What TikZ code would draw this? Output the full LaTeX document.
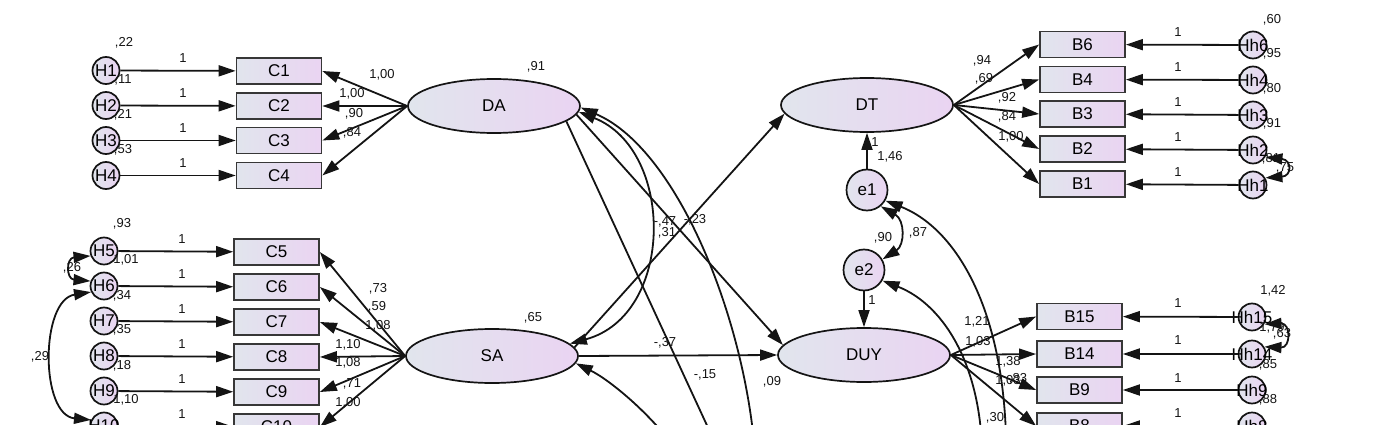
\documentclass[tikz,border=0pt]{standalone}
\usepackage{fontspec}
\setmainfont{Liberation Sans}
\usetikzlibrary{shapes.geometric,arrows.meta}
\definecolor{gL}{RGB}{225,229,237}
\definecolor{gR}{RGB}{234,212,242}
\definecolor{lc}{RGB}{20,20,20}
\newcommand\zw[1]{\makebox[0pt]{#1}}
\begin{document}
\begin{tikzpicture}[x=1pt,y=-1pt,
 lat/.style={ellipse,draw=lc,line width=1.7pt,left color=gL,right color=gR,minimum width=172pt,minimum height=54pt,inner sep=0pt,font=\fontsize{17}{20}\selectfont},
 obs/.style={rectangle,draw=lc!85,line width=1.7pt,left color=gL,right color=gR,minimum width=85pt,minimum height=26pt,inner sep=0pt,font=\fontsize{17}{20}\selectfont},
 err/.style={circle,draw=lc,line width=1.7pt,left color=gL,right color=gR,minimum size=27pt,inner sep=0pt,font=\fontsize{17}{20}\selectfont},
 res/.style={err,minimum size=41pt},
 lbl/.style={inner sep=0pt,font=\fontsize{13}{15}\selectfont,text=lc},
 arr/.style={-{Triangle[length=17pt,width=11pt]},line width=1.8pt,draw=lc},
 cov/.style={{Triangle[length=17pt,width=11pt]}-{Triangle[length=17pt,width=11pt]},line width=1.8pt,draw=lc}]
\useasboundingbox (0,0) rectangle (1400,425);
\clip (0,0) rectangle (1400,425);
% ---------- top-left group
\node[err] (H1) at (106,70.5) {\zw{H1}};
\node[err] (H2) at (106,105.5) {\zw{H2}};
\node[err] (H3) at (106,140.5) {\zw{H3}};
\node[err] (H4) at (106,175.5) {\zw{H4}};
\node[obs] (C1) at (279,71) {C1};
\node[obs] (C2) at (279,106) {C2};
\node[obs] (C3) at (279,140.5) {C3};
\node[obs] (C4) at (279,175.5) {C4};
\node[lat] (DA) at (494,106) {DA};
% ---------- left-middle group
\node[err] (H5) at (104,251) {\zw{H5}};
\node[err] (H6) at (104,286) {\zw{H6}};
\node[err] (H7) at (104,321) {\zw{H7}};
\node[err] (H8) at (104,356) {\zw{H8}};
\node[err] (H9) at (104,391) {\zw{H9}};
\node[err] (H10) at (104,426) {\zw{H10}};
\node[obs] (C5) at (276.5,252) {C5};
\node[obs] (C6) at (276.5,287) {C6};
\node[obs] (C7) at (276.5,322) {C7};
\node[obs] (C8) at (276.5,357) {C8};
\node[obs] (C9) at (276.5,392) {C9};
\node[obs] (C10) at (276.5,427) {C10};
\node[lat] (SA) at (492,356) {SA};
% ---------- middle
\node[lat] (DT) at (867,105) {DT};
\node[lat] (DUY) at (864,355) {DUY};
\node[res] (e1) at (867,190) {\zw{e1}};
\node[res] (e2) at (864,270) {\zw{e2}};
% ---------- right-top group
\node[obs] (B6) at (1082.5,44.5) {B6};
\node[obs] (B4) at (1082.5,79.5) {B4};
\node[obs] (B3) at (1082.5,114) {B3};
\node[obs] (B2) at (1082.5,149) {B2};
\node[obs] (B1) at (1082.5,184) {B1};
\node[err] (Hh6) at (1253,45) {\zw{Hh6}};
\node[err] (Hh4) at (1253,80) {\zw{Hh4}};
\node[err] (Hh3) at (1253,115) {\zw{Hh3}};
\node[err] (Hh2) at (1253,150) {\zw{Hh2}};
\node[err] (Hh1) at (1253,185) {\zw{Hh1}};
% ---------- right-bottom group
\node[obs] (B15) at (1079.5,316.5) {B15};
\node[obs] (B14) at (1079.5,354) {B14};
\node[obs] (B9) at (1079.5,390) {B9};
\node[obs] (B8) at (1079.5,426) {B8};
\node[err] (Hh15) at (1252,317) {\zw{Hh15}};
\node[err] (Hh14) at (1252,354) {\zw{Hh14}};
\node[err] (Hh9) at (1252,390) {\zw{Hh9}};
\node[err] (Hh8) at (1252,426) {\zw{Hh8}};
% ---------- free ends below the frame
\coordinate (o1) at (756,470);
\coordinate (o2) at (723,460);
\coordinate (o3) at (690,470);
\coordinate (o4) at (1006,470);
\coordinate (o5) at (982,470);
% ---------- connectors
\foreach \i in {1,...,10} \draw[arr] (H\i) -- (C\i);
\foreach \i in {1,...,4} \draw[arr] (DA.west) -- (C\i.east);
\foreach \i in {5,...,10} \draw[arr] (SA.west) -- (C\i.east);
\foreach \b in {6,4,3,2,1} {\draw[arr] (DT.east) -- (B\b.west); \draw[arr] (Hh\b) -- (B\b);}
\foreach \b in {15,14,9,8} {\draw[arr] (DUY.east) -- (B\b.west); \draw[arr] (Hh\b) -- (B\b);}
\draw[arr] (e1) -- (DT);
\draw[arr] (e2) -- (DUY);
\draw[arr] (DA.-6) -- (DUY.173);
\draw[arr] (SA.6) -- (DT.186);
\draw[arr] (SA.east) -- (DUY.west);
\draw[cov] (DA.-4) .. controls (675,150) and (675,315) .. (SA.9);
\draw[arr] (o1) .. controls (750,330) and (680,150) .. (DA.-1);
\draw[arr] (DA.-12) -- (o2);
\draw[arr] (o3) .. controls (660,420) and (610,380) .. (SA.-5);
\draw[arr] (o4) .. controls (1010,320) and (960,230) .. (e1.-30);
\draw[arr] (o5) .. controls (985,370) and (945,305) .. (e2.-30);
\draw[cov] (e1.-50) .. controls (905,220) and (905,245) .. (e2.30);
\draw[cov] (H6.205) .. controls (40,300) and (40,415) .. (H10.155);
\draw[cov] (H5.200) .. controls (66,258) and (66,279) .. (H6.160);
\draw[cov] (Hh2.-30) .. controls (1292,160) and (1292,176) .. (Hh1.30);
\draw[cov] (Hh15.-30) .. controls (1291,323) and (1291,348) .. (Hh14.30);
% ---------- labels top-left
\node[lbl] (t1) at (124,43) {,22};
\node[lbl] (t2) at (123,80) {,11};
\node[lbl] (t3) at (123,115) {,21};
\node[lbl] (t4) at (123,150) {,53};
\node[lbl] (t5) at (183,58) {1};
\node[lbl] (t6) at (183,93) {1};
\node[lbl] (t7) at (183,128) {1};
\node[lbl] (t8) at (183,163) {1};
\node[lbl] (t9) at (382,75) {1,00};
\node[lbl] (t10) at (352,94) {1,00};
\node[lbl] (t11) at (354,114) {,90};
\node[lbl] (t12) at (352,133) {,84};
\node[lbl] (t13) at (536,67) {,91};
% ---------- labels left-middle
\node[lbl] (m1) at (122,224) {,93};
\node[lbl] (m2) at (126,260) {1,01};
\node[lbl] (m3) at (122,296) {,34};
\node[lbl] (m4) at (122,330) {,35};
\node[lbl] (m5) at (122,366) {,18};
\node[lbl] (m6) at (126,400) {1,10};
\node[lbl] (m7) at (182,239) {1};
\node[lbl] (m8) at (182,274) {1};
\node[lbl] (m9) at (182,309) {1};
\node[lbl] (m10) at (182,344) {1};
\node[lbl] (m11) at (182,379) {1};
\node[lbl] (m12) at (182,414) {1};
\node[lbl] (m13) at (378,289) {,73};
\node[lbl] (m14) at (377,307) {,59};
\node[lbl] (m15) at (378,326) {1,08};
\node[lbl] (m16) at (348,345) {1,10};
\node[lbl] (m17) at (348,363) {1,08};
\node[lbl] (m18) at (352,384) {,71};
\node[lbl] (m19) at (348,403) {1,00};
\node[lbl] (m20) at (40,357) {,29};
\node[lbl] (m21) at (72,268) {,26};
\node[lbl] (m22) at (533,318) {,65};
% ---------- labels middle
\node[lbl] (s1) at (665,343) {-,37};
\node[lbl] (s2) at (705,375) {-,15};
\node[lbl] (s3) at (772,382) {,09};
\node[lbl] (s4) at (665,222) {-,47};
\node[lbl] (s5) at (695,220) {-,23};
\node[lbl] (s6) at (667,233) {,31};
\node[lbl] (s7) at (875,142) {1};
\node[lbl] (s8) at (890,157) {1,46};
\node[lbl] (s9) at (883,238) {,90};
\node[lbl] (s10) at (918,233) {,87};
\node[lbl] (s11) at (872,300) {1};
% ---------- labels right-top
\node[lbl] (r1) at (982,61) {,94};
\node[lbl] (r2) at (984,79) {,69};
\node[lbl] (r3) at (1007,98) {,92};
\node[lbl] (r4) at (1007,117) {,84};
\node[lbl] (r5) at (1011,137) {1,00};
\node[lbl] (r6) at (1272,20) {,60};
\node[lbl] (r7) at (1272,54) {,95};
\node[lbl] (r8) at (1272,89) {,80};
\node[lbl] (r9) at (1272,124) {,91};
\node[lbl] (r10) at (1271,159) {,81};
\node[lbl] (r11) at (1285,168) {,75};
\node[lbl] (r12) at (1178,32) {1};
\node[lbl] (r13) at (1178,67) {1};
\node[lbl] (r14) at (1178,102) {1};
\node[lbl] (r15) at (1178,137) {1};
\node[lbl] (r16) at (1178,172) {1};
% ---------- labels right-bottom
\node[lbl] (q1) at (1273,291) {1,42};
\node[lbl] (q2) at (1272,328) {1,79};
\node[lbl] (q3) at (1282,334) {,63};
\node[lbl] (q4) at (1268,365) {,85};
\node[lbl] (q5) at (1268,400) {,88};
\node[lbl] (q6) at (1178,303) {1};
\node[lbl] (q7) at (1178,340) {1};
\node[lbl] (q8) at (1178,378) {1};
\node[lbl] (q9) at (1178,413) {1};
\node[lbl] (q10) at (977,322) {1,21};
\node[lbl] (q11) at (978,342) {1,03};
\node[lbl] (q12) at (1008,362) {1,38};
\node[lbl] (q13) at (1008,381) {1,03};
\node[lbl] (q14) at (1018,379) {,83};
\node[lbl] (q15) at (995,418) {,30};
\end{tikzpicture}
\end{document}
